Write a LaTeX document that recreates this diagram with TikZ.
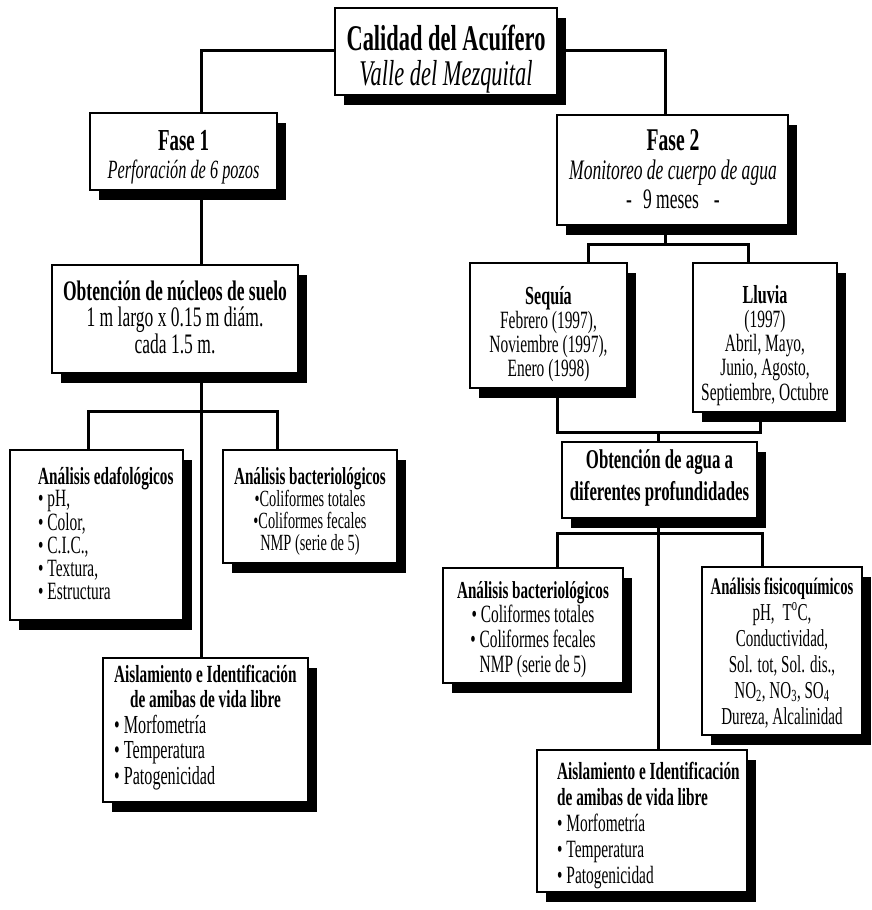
\documentclass[tikz,border=0pt]{standalone}
\usepackage{fontspec}
\setmainfont{Liberation Serif}[FakeStretch=0.62]
\usetikzlibrary{shadows}
\newcommand\fsz[2]{\fontsize{\fpeval{#1*1.13}}{#2}\selectfont}
\begin{document}
\begin{tikzpicture}[x=1pt,y=-1pt,
  box/.style={draw, line width=1.8pt, fill=white, inner sep=0pt,
    drop shadow={shadow xshift=9pt, shadow yshift=-10pt, fill=black, opacity=1}},
  conn/.style={line width=3pt},
  txt/.style={inner sep=0pt, anchor=base},
  txtl/.style={inner sep=0pt, anchor=base west}]
\useasboundingbox (0,0) rectangle (871,910);

% boxes
\node[box, minimum width=222pt, minimum height=87pt]  (top)    at (446,51.5)   {};
\node[box, minimum width=187pt, minimum height=77pt]  (fase1)  at (183.5,151.5){};
\node[box, minimum width=231pt, minimum height=110pt] (fase2)  at (672.5,170)  {};
\node[box, minimum width=246pt, minimum height=108pt] (nucleos) at (175,319)   {};
\node[box, minimum width=173pt, minimum height=170pt] (edaf)   at (96.5,535)   {};
\node[box, minimum width=174pt, minimum height=113pt] (bactL)  at (310,506.5)  {};
\node[box, minimum width=205pt, minimum height=144pt] (aislL)  at (205.5,730)  {};
\node[box, minimum width=157pt, minimum height=125pt] (seq)    at (548.5,325.5){};
\node[box, minimum width=144pt, minimum height=149pt] (llu)    at (765,337.5)  {};
\node[box, minimum width=195pt, minimum height=76pt]  (agua)   at (659.5,480)  {};
\node[box, minimum width=180pt, minimum height=115pt] (bactR)  at (533,625.5)  {};
\node[box, minimum width=160pt, minimum height=168pt] (fis)    at (782,651)    {};
\node[box, minimum width=210pt, minimum height=142pt] (aislR)  at (642,821)    {};

% texts
\node[txt] (topT) at (446,50) {\fsz{32}{35}\begin{tabular}[t]{@{}c@{}}\bfseries Calidad del Acuífero\\ \itshape Valle del Mezquital\end{tabular}};
\node[txt] (fase1T) at (183.5,150) {\fsz{27}{28}\begin{tabular}[t]{@{}c@{}}\bfseries Fase 1\\ \fsz{23.3}{28}\itshape Perforación de 6 pozos\end{tabular}};
\node[txt] (fase2T) at (673,150) {\fsz{28}{29}\begin{tabular}[t]{@{}c@{}}\bfseries Fase 2\\ \fsz{25}{29}\itshape Monitoreo de cuerpo de agua\\ \fsz{25}{29}-\hspace{11pt}9 meses\hspace{15pt}-\end{tabular}};
\node[txt] (nucT) at (175,300) {\fsz{25}{23.5}\begin{tabular}[t]{@{}c@{}}\bfseries Obtención de núcleos de suelo\\ 1 m largo x 0.15 m diám.\\ cada 1.5 m.\end{tabular}};
\node[txtl] (edafT) at (38,484) {\fsz{22}{22}\begin{tabular}[t]{@{}l@{}}\multicolumn{1}{@{}c@{}}{\fsz{21.8}{22}\bfseries Análisis edafológicos}\\ • pH,\\ • Color,\\ • C.I.C.,\\ • Textura,\\ • Estructura\end{tabular}};
\node[txt] (bactLT) at (310,484) {\fsz{20.5}{20}\begin{tabular}[t]{@{}c@{}}\fsz{21.6}{20}\bfseries Análisis bacteriológicos\\ •Coliformes totales\\ •Coliformes fecales\\ NMP (serie de 5)\end{tabular}};
\node[txtl] (aislLT) at (114,682) {\fsz{23}{25.5}\begin{tabular}[t]{@{}l@{}}\multicolumn{1}{@{}c@{}}{\fsz{21.8}{25.5}\bfseries Aislamiento e Identificación}\\ \multicolumn{1}{@{}c@{}}{\fsz{21.8}{25.5}\bfseries de amibas de vida libre}\\ • Morfometría\\ • Temperatura\\ • Patogenicidad\end{tabular}};
\node[txt] (seqT) at (548.5,304) {\fsz{22}{23.5}\begin{tabular}[t]{@{}c@{}}\fsz{23}{23.5}\bfseries Sequía\\ Febrero (1997),\\ Noviembre (1997),\\ Enero (1998)\end{tabular}};
\node[txt] (lluT) at (765,303) {\fsz{22}{24}\begin{tabular}[t]{@{}c@{}}\fsz{23}{24}\bfseries Lluvia\\ (1997)\\ Abril, Mayo,\\ Junio, Agosto,\\ Septiembre, Octubre\end{tabular}};
\node[txt] (aguaT) at (659.5,468) {\fsz{24}{32}\begin{tabular}[t]{@{}c@{}}\bfseries Obtención de agua a\\ \bfseries diferentes profundidades\end{tabular}};
\node[txt] (bactRT) at (533,598) {\fsz{22}{24.5}\begin{tabular}[t]{@{}c@{}}\fsz{21.6}{24.5}\bfseries Análisis bacteriológicos\\ • Coliformes totales\\ • Coliformes fecales\\ NMP (serie de 5)\end{tabular}};
\node[txt] (fisT) at (782,594) {\fsz{21.5}{26}\begin{tabular}[t]{@{}c@{}}\fsz{21}{26}\bfseries Análisis fisicoquímicos\\ pH,\hspace{8pt}T\textsuperscript{o}C,\\ Conductividad,\\ Sol. tot, Sol. dis.,\\ NO\textsubscript{2}, NO\textsubscript{3}, SO\textsubscript{4}\\ Dureza, Alcalinidad\end{tabular}};
\node[txtl] (aislRT) at (557,779) {\fsz{22}{26}\begin{tabular}[t]{@{}l@{}}\fsz{21.8}{26}\bfseries Aislamiento e Identificación\\ \fsz{21.8}{26}\bfseries de amibas de vida libre\\ • Morfometría\\ • Temperatura\\ • Patogenicidad\end{tabular}};

% connector coordinates
\coordinate (tl) at (201,50);
\coordinate (tr) at (665,50);
\coordinate (jl) at (201,411);
\coordinate (jl1) at (88,411);
\coordinate (jl2) at (277,411);
\coordinate (jr) at (665,244);
\coordinate (jr1) at (588,244);
\coordinate (jr2) at (748,244);
\coordinate (js) at (658,432);
\coordinate (js1) at (557,432);
\coordinate (js2) at (760,432);
\coordinate (ja) at (658,533);
\coordinate (ja1) at (557,533);
\coordinate (ja2) at (762,533);

% connectors
\draw[conn] (top.west |- tl) -- (tl) -- (fase1.north -| tl);
\draw[conn] (top.east |- tr) -- (tr) -- (fase2.north -| tr);
\draw[conn] (fase1.south -| tl) -- (nucleos.north -| tl);
\draw[conn] (nucleos.south -| jl) -- (aislL.north -| jl);
\draw[conn] (edaf.north -| jl1) -- (jl1) -- (jl2) -- (bactL.north -| jl2);
\draw[conn] (fase2.south -| jr) -- (jr);
\draw[conn] (seq.north -| jr1) -- (jr1) -- (jr2) -- (llu.north -| jr2);
\draw[conn] (seq.south -| js1) -- (js1) -- (js2) -- (llu.south -| js2);
\draw[conn] (js) -- (agua.north -| js);
\draw[conn] (agua.south -| ja) -- (aislR.north -| ja);
\draw[conn] (bactR.north -| ja1) -- (ja1) -- (ja2) -- (fis.north -| ja2);
\end{tikzpicture}
\end{document}
